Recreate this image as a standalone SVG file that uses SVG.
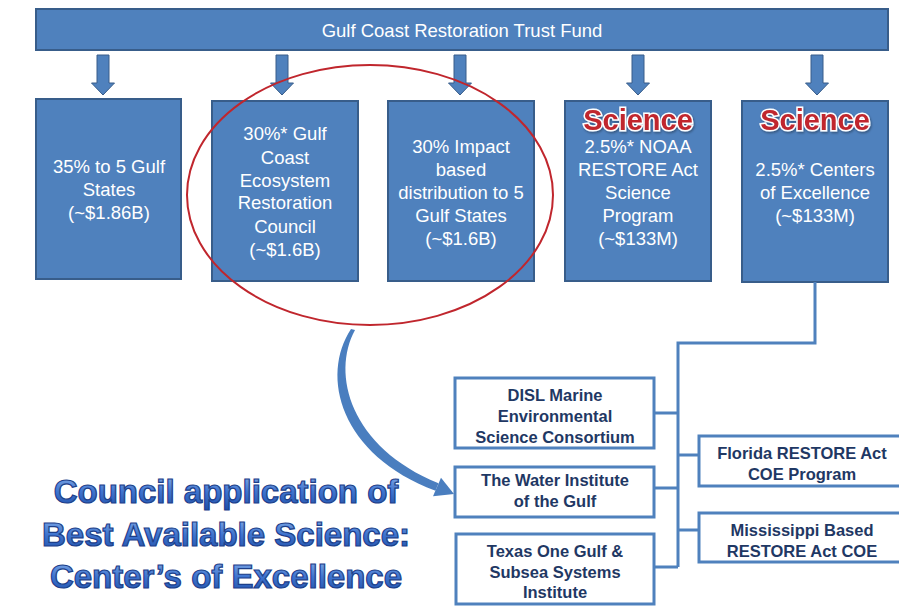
<svg xmlns="http://www.w3.org/2000/svg" width="899" height="607" viewBox="0 0 899 607">
<style>
.box{fill:#4f81bd;stroke:#385d8a;stroke-width:2}
.wt{fill:#fff;font-family:"Liberation Sans",Arial,sans-serif;font-size:18.5px;text-anchor:middle}
.sci{fill:#c0272d;stroke:#fff;stroke-width:3;paint-order:stroke;font-family:"Liberation Sans",Arial,sans-serif;font-weight:bold;font-size:29px;text-anchor:middle}
.ob{fill:#fff;stroke:#4f81bd;stroke-width:3}
.bt{fill:#1f3864;font-family:"Liberation Sans",Arial,sans-serif;font-weight:bold;font-size:16.5px;text-anchor:middle}
.con{fill:none;stroke:#4f81bd;stroke-width:3}
.head{font-family:"Liberation Sans",Arial,sans-serif;font-weight:bold;font-size:33px;text-anchor:middle;fill:url(#hg);stroke:#1d3f8a;stroke-width:1.2}
</style>
<defs>
<path id="dn" d="M -6 55 H 6 V 83 H 11.5 L 0 95 L -11.5 83 H -6 Z" fill="#4f81bd" stroke="#385d8a" stroke-width="1"/>
<linearGradient id="hg" x1="0" y1="0" x2="0" y2="1">
<stop offset="0" stop-color="#8ab2ea"/>
<stop offset="0.5" stop-color="#3f74cf"/>
<stop offset="1" stop-color="#1f4fa8"/>
</linearGradient>
<filter id="sh" x="-10%" y="-20%" width="120%" height="150%">
<feDropShadow dx="1" dy="1.5" stdDeviation="1" flood-color="#000" flood-opacity="0.35"/>
</filter>
</defs>
<rect width="899" height="607" fill="#fff"/>
<g id="trust-fund">
<rect class="box" x="36" y="9" width="852" height="41"/>
<text class="wt" x="462" y="37">Gulf Coast Restoration Trust Fund</text>
</g>
<g id="down-arrows">
<use href="#dn" x="103"/>
<use href="#dn" x="282"/>
<use href="#dn" x="460"/>
<use href="#dn" x="638"/>
<use href="#dn" x="817"/>
</g>
<g id="box-35">
<rect class="box" x="36" y="99" width="145" height="180"/>
<text class="wt" x="109" y="173">35% to 5 Gulf</text>
<text class="wt" x="109" y="196">States</text>
<text class="wt" x="109" y="219">(~$1.86B)</text>
</g>
<g id="box-council">
<rect class="box" x="212" y="101" width="146" height="180"/>
<text class="wt" x="285" y="140">30%* Gulf</text>
<text class="wt" x="285" y="164">Coast</text>
<text class="wt" x="285" y="187">Ecosystem</text>
<text class="wt" x="285" y="209">Restoration</text>
<text class="wt" x="285" y="233">Council</text>
<text class="wt" x="285" y="256">(~$1.6B)</text>
</g>
<g id="box-impact">
<rect class="box" x="388" y="101" width="146" height="180"/>
<text class="wt" x="461" y="153">30% Impact</text>
<text class="wt" x="461" y="176">based</text>
<text class="wt" x="461" y="199">distribution to 5</text>
<text class="wt" x="461" y="222">Gulf States</text>
<text class="wt" x="461" y="245">(~$1.6B)</text>
</g>
<g id="box-noaa">
<rect class="box" x="565" y="101" width="146" height="180"/>
<text class="sci" x="638" y="130" filter="url(#sh)">Science</text>
<text class="wt" x="638" y="153">2.5%* NOAA</text>
<text class="wt" x="638" y="176">RESTORE Act</text>
<text class="wt" x="638" y="199">Science</text>
<text class="wt" x="638" y="222">Program</text>
<text class="wt" x="638" y="245">(~$133M)</text>
</g>
<g id="box-coe">
<rect class="box" x="742" y="101" width="146" height="181"/>
<text class="sci" x="815" y="130" filter="url(#sh)">Science</text>
<text class="wt" x="815" y="176">2.5%* Centers</text>
<text class="wt" x="815" y="199">of Excellence</text>
<text class="wt" x="815" y="222">(~$133M)</text>
</g>
<g id="highlight-ellipse">
<ellipse cx="370" cy="195" rx="183" ry="130" fill="none" stroke="#c0262d" stroke-width="2"/>
</g>
<g id="connectors">
<path class="con" d="M 815 282 V 343 H 678 V 567"/>
<path class="con" d="M 654 413 H 678 M 654 488 H 678 M 654 567 H 678 M 678 455 H 699 M 678 530 H 699"/>
<path d="M 351 329 C 320 376 340 455 435.5 490.7 L 438.5 483.3 C 350 447 331 374 355 330 Z" fill="#4a7ebf"/>
<path d="M 441 477.7 L 454 494 L 433 496.3 Z" fill="#4a7ebf"/>
</g>
<g id="disl">
<rect class="ob" x="455" y="378" width="199" height="70"/>
<text class="bt" x="555" y="401">DISL Marine</text>
<text class="bt" x="555" y="422">Environmental</text>
<text class="bt" x="555" y="443">Science Consortium</text>
</g>
<g id="water-institute">
<rect class="ob" x="455" y="467" width="199" height="50"/>
<text class="bt" x="555" y="486">The Water Institute</text>
<text class="bt" x="555" y="507">of the Gulf</text>
</g>
<g id="texas">
<rect class="ob" x="456" y="534" width="198" height="70"/>
<text class="bt" x="555" y="557">Texas One Gulf &amp;</text>
<text class="bt" x="555" y="578">Subsea Systems</text>
<text class="bt" x="555" y="598">Institute</text>
</g>
<g id="florida">
<rect class="ob" x="699" y="436" width="220" height="50"/>
<text class="bt" x="802" y="459">Florida RESTORE Act</text>
<text class="bt" x="802" y="480">COE Program</text>
</g>
<g id="mississippi">
<rect class="ob" x="699" y="513" width="220" height="49"/>
<text class="bt" x="802" y="536">Mississippi Based</text>
<text class="bt" x="802" y="557">RESTORE Act COE</text>
</g>
<g id="heading">
<text class="head" x="226" y="503">Council application of</text>
<text class="head" x="226" y="546">Best Available Science:</text>
<text class="head" x="226" y="588">Center’s of Excellence</text>
</g>
</svg>
